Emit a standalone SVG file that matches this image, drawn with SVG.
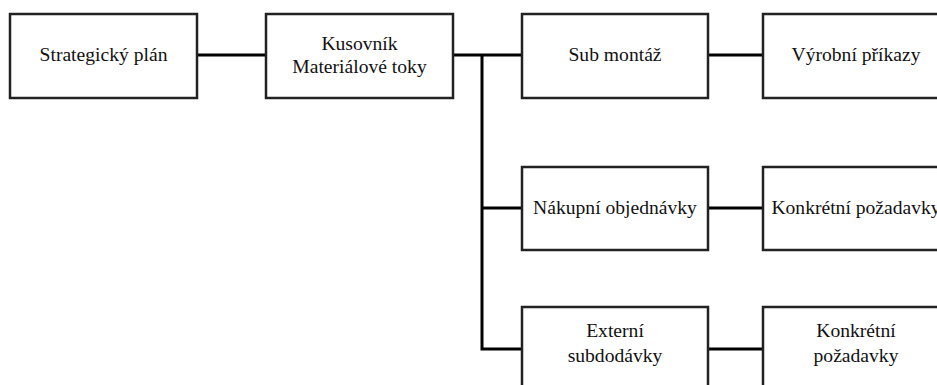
<svg xmlns="http://www.w3.org/2000/svg" width="937" height="385" viewBox="0 0 937 385">
<style>
.box{fill:#fff;stroke:#222;stroke-width:2.5}
.t{font-family:"Liberation Serif","Times New Roman",serif;font-size:19.6px;fill:#111;text-anchor:middle}
.c{fill:none;stroke:#000;stroke-width:3}
</style>
<rect width="937" height="385" fill="#fff"/>
<g id="connectors">
<line class="c" x1="197" y1="55" x2="266" y2="55"/>
<line class="c" x1="453" y1="55" x2="522" y2="55"/>
<polyline class="c" points="482,55 482,349 522,349"/>
<line class="c" x1="482" y1="208" x2="522" y2="208"/>
<line class="c" x1="708" y1="55" x2="763" y2="55"/>
<line class="c" x1="708" y1="208" x2="763" y2="208"/>
<line class="c" x1="708" y1="349" x2="763" y2="349"/>
</g>
<g id="strategicky">
<rect class="box" x="10" y="14" width="187" height="84"/>
<text class="t" x="103.5" y="61">Strategický plán</text>
</g>
<g id="kusovnik">
<rect class="box" x="266" y="14" width="187" height="84"/>
<text class="t" x="359.5" y="50">Kusovník</text>
<text class="t" x="359.5" y="73">Materiálové toky</text>
</g>
<g id="submontaz">
<rect class="box" x="522" y="14" width="186" height="84"/>
<text class="t" x="615" y="61">Sub montáž</text>
</g>
<g id="vyrobni">
<rect class="box" x="763" y="14" width="186" height="84"/>
<text class="t" x="856" y="61">Výrobní příkazy</text>
</g>
<g id="nakupni">
<rect class="box" x="522" y="167" width="186" height="83"/>
<text class="t" x="615" y="214">Nákupní objednávky</text>
</g>
<g id="konkretni1">
<rect class="box" x="763" y="167" width="186" height="83"/>
<text class="t" x="856" y="214">Konkrétní požadavky</text>
</g>
<g id="externi">
<rect class="box" x="522" y="307" width="186" height="84"/>
<text class="t" x="615" y="337">Externí</text>
<text class="t" x="615" y="362">subdodávky</text>
</g>
<g id="konkretni2">
<rect class="box" x="763" y="307" width="186" height="84"/>
<text class="t" x="856" y="337">Konkrétní</text>
<text class="t" x="856" y="362">požadavky</text>
</g>
</svg>
